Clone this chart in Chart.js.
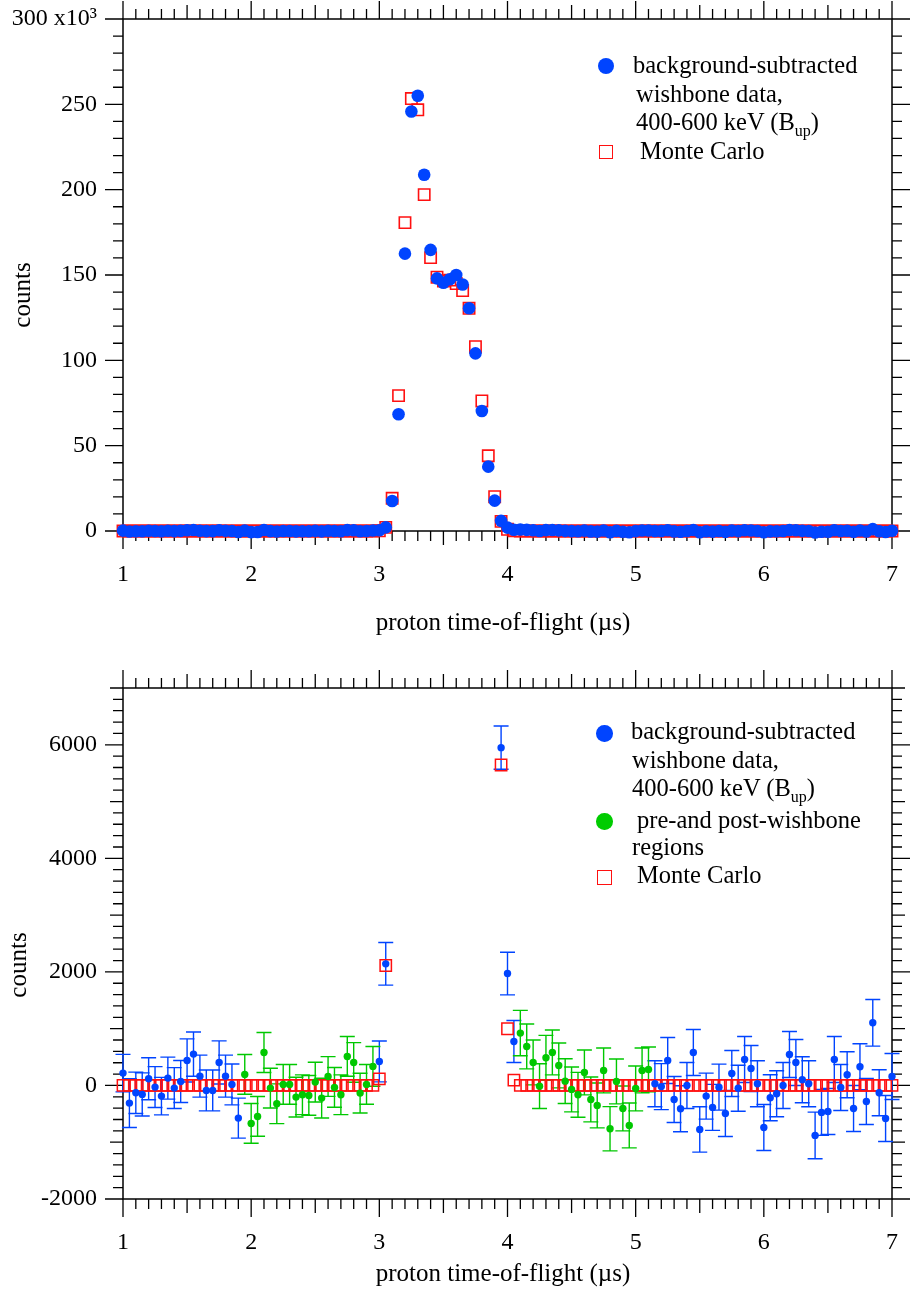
<!DOCTYPE html>
<html>
<head>
<meta charset="utf-8">
<script src="https://cdn.jsdelivr.net/npm/chart.js@4.4.0/dist/chart.umd.min.js"></script>
<style>
html,body{margin:0;padding:0;background:#fff;}
#wrap{position:relative;width:910px;height:1305px;overflow:hidden;font-family:"Liberation Serif","Times New Roman",serif;color:#000;}
canvas{position:absolute;left:0;}
.lg{position:absolute;white-space:nowrap;font-size:24.5px;line-height:28px;}
.lg sub{font-size:16px;vertical-align:-6px;line-height:0;}
.ttl{position:absolute;white-space:nowrap;font-size:25px;line-height:30px;text-align:center;}
.dot{position:absolute;border-radius:50%;}
.sq{position:absolute;box-sizing:border-box;border:1.6px solid #ff1010;}
</style>
</head>
<body>
<div id="wrap">
  <canvas id="top" width="910" height="655" style="top:0"></canvas>
  <canvas id="bot" width="910" height="650" style="top:655px"></canvas>

  <!-- top legend -->
  <div class="dot" style="left:598px;top:58px;width:16px;height:16px;background:#0044ff"></div>
  <div class="lg" style="left:633px;top:51px">background-subtracted</div>
  <div class="lg" style="left:636px;top:80px">wishbone data,</div>
  <div class="lg" style="left:636px;top:108px">400-600 keV (B<sub>up</sub>)</div>
  <div class="sq" style="left:599px;top:145px;width:14px;height:14px"></div>
  <div class="lg" style="left:640px;top:137px">Monte Carlo</div>

  <!-- bottom legend -->
  <div class="dot" style="left:596px;top:725px;width:16.5px;height:16.5px;background:#0044ff"></div>
  <div class="lg" style="left:631px;top:717px">background-subtracted</div>
  <div class="lg" style="left:632px;top:746px">wishbone data,</div>
  <div class="lg" style="left:632px;top:774px">400-600 keV (B<sub>up</sub>)</div>
  <div class="dot" style="left:596px;top:813px;width:16.5px;height:16.5px;background:#00cc00"></div>
  <div class="lg" style="left:637px;top:806px">pre-and post-wishbone</div>
  <div class="lg" style="left:632px;top:833px">regions</div>
  <div class="sq" style="left:597px;top:870px;width:15px;height:15px"></div>
  <div class="lg" style="left:637px;top:861px">Monte Carlo</div>

  <!-- axis titles -->
  <div class="ttl" style="left:303px;top:607px;width:400px">proton time-of-flight (µs)</div>
  <div class="ttl" style="left:303px;top:1258px;width:400px">proton time-of-flight (µs)</div>
  <div class="ttl" style="left:-38px;top:280px;width:120px;height:30px;transform:rotate(-90deg)">counts</div>
  <div class="ttl" style="left:-42px;top:950px;width:120px;height:30px;transform:rotate(-90deg)">counts</div>
</div>
<script>
// ---------------- data ----------------
const times = [
  1.00,1.05,1.10,1.15,1.20,1.25,1.30,1.35,1.40,1.45,
  1.50,1.55,1.60,1.65,1.70,1.75,1.80,1.85,1.90,1.95,
  2.00,2.05,2.10,2.15,2.20,2.25,2.30,2.35,2.40,2.45,
  2.50,2.55,2.60,2.65,2.70,2.75,2.80,2.85,2.90,2.95,
  3.00,3.05,3.10,3.15,3.20,3.25,3.30,3.35,3.40,3.45,
  3.50,3.55,3.60,3.65,3.70,3.75,3.80,3.85,3.90,3.95,
  4.00,4.05,4.10,4.15,4.20,4.25,4.30,4.35,4.40,4.45,
  4.50,4.55,4.60,4.65,4.70,4.75,4.80,4.85,4.90,4.95,
  5.00,5.05,5.10,5.15,5.20,5.25,5.30,5.35,5.40,5.45,
  5.50,5.55,5.60,5.65,5.70,5.75,5.80,5.85,5.90,5.95,
  6.00,6.05,6.10,6.15,6.20,6.25,6.30,6.35,6.40,6.45,
  6.50,6.55,6.60,6.65,6.70,6.75,6.80,6.85,6.90,6.95,
  7.00
];
// background-subtracted data (counts)
const dataCounts = [
  217,-311,-129,-158,117,-29,-188,129,-47,70,
  440,552,164,-88,-88,405,164,18,-575,194,
  -669,-546,581,-47,-323,18,18,-205,-164,-176,
  59,-223,158,-35,-164,511,405,-135,18,335,
  423,2142,17600,68400,162500,245800,255000,208700,164700,148000,
  145500,147500,150000,144400,130500,104100,70300,37700,17800,5949,
  1971,775,922,687,405,-12,487,581,352,76,
  -70,-164,229,-247,-352,264,-763,70,-405,-704,
  -53,264,282,30,-20,440,-247,-411,0,581,
  -775,-188,-387,-30,-493,211,-50,458,299,29,
  -740,-217,-147,0,546,405,100,29,-880,-475,
  -458,458,-35,188,-405,329,-282,1104,-129,-581,
  158
];
// statistical uncertainties of the data (counts)
const dataErrors = [
  330,430,364,380,370,360,330,370,360,370,
  380,390,370,360,360,380,370,360,352,350,
  350,350,352,350,350,350,350,350,350,350,
  350,350,350,350,350,350,350,350,350,350,
  360,376,400,400,400,400,400,400,400,400,
  400,400,400,400,400,400,400,400,400,381,
  376,370,400,395,395,395,395,395,395,395,
  395,395,395,395,395,395,390,395,395,395,
  395,395,395,405,405,405,405,405,405,405,
  400,405,405,405,405,405,405,405,405,405,
  405,405,405,405,405,405,405,405,410,405,
  405,405,405,405,405,405,405,411,405,405,
  405
];
// Monte Carlo (counts)
const mcCounts = [
  0,0,0,0,0,0,0,0,0,0,
  0,0,0,0,0,0,0,0,0,0,
  0,0,0,0,0,0,0,0,0,0,
  0,0,0,0,0,0,0,0,0,0,
  117,2112,19200,79300,180700,253400,246800,197100,160200,148700,
  146500,147000,145000,140900,130500,108000,76200,44100,20100,5644,
  998,94,0,0,0,0,0,0,0,0,
  0,0,0,0,0,0,0,0,0,0,
  0,0,0,0,0,0,0,0,0,0,
  0,0,0,0,0,0,0,0,0,0,
  0,0,0,0,0,0,0,0,0,0,
  0,0,0,0,0,0,0,0,0,0,
  0
];
// pre- and post-wishbone regions (µs)
const preRegion = [1.95, 2.95];
const postRegion = [4.10, 5.10];

// axis ticks / labels
const xTickValues = [1,2,3,4,5,6,7];
const xTickLabels = ['1','2','3','4','5','6','7'];
const yTopTickValues = [0,50000,100000,150000,200000,250000,300000];
const yTopTickLabels = ['0','50','100','150','200','250','300 x10\u00B3'];
const yBotTickValues = [-2000,0,2000,4000,6000];
const yBotTickLabels = ['-2000','0','2000','4000','6000'];

// ---------------- styling ----------------
const BLUE = '#0044ff', GREEN = '#00c800', RED = '#ff1010';
const FONT = "'Liberation Serif','Times New Roman',serif";
Chart.defaults.font.family = FONT;
Chart.defaults.color = '#000';

const inRegion = (t, r) => t >= r[0] - 1e-9 && t <= r[1] + 1e-9;
const isGreen = t => inRegion(t, preRegion) || inRegion(t, postRegion);
const pts = (arr, filt) => times.map((t, i) => ({x: t, y: arr[i], i})).filter(p => !filt || filt(p.x));

// frame + ticks plugin (outward ticks on all four sides)
function framePlugin(ySpec) {
  return {
    id: 'frame',
    beforeDatasetsDraw(chart) {
      const {ctx, chartArea: a, scales: {x, y}} = chart;
      ctx.save();
      ctx.strokeStyle = '#000';
      ctx.lineWidth = 1.5;
      ctx.strokeRect(a.left, a.top, a.right - a.left, a.bottom - a.top);
      ctx.lineWidth = 1.3;
      ctx.beginPath();
      for (let k = Math.round(x.min * 10); k <= Math.round(x.max * 10); k++) {
        const px = x.getPixelForValue(k / 10);
        const len = k % 10 === 0 ? 18 : (k % 5 === 0 ? 14 : 10);
        ctx.moveTo(px, a.bottom); ctx.lineTo(px, a.bottom + len);
        ctx.moveTo(px, a.top); ctx.lineTo(px, a.top - len);
      }
      const n0 = Math.round(y.min / ySpec.minor), n1 = Math.round(y.max / ySpec.minor);
      for (let k = n0; k <= n1; k++) {
        const v = k * ySpec.minor;
        const py = y.getPixelForValue(v);
        let len = 10;
        if (Math.abs(v % ySpec.major) < 1e-6) len = 18;
        else if (ySpec.mid && Math.abs(v % ySpec.mid) < 1e-6) len = 13;
        ctx.moveTo(a.left, py); ctx.lineTo(a.left - len, py);
        ctx.moveTo(a.right, py); ctx.lineTo(a.right + len, py);
      }
      ctx.stroke();
      ctx.restore();
    }
  };
}

const errorBarPlugin = {
  id: 'errbars',
  beforeDatasetsDraw(chart) {
    const {ctx, chartArea: a, scales: {x, y}} = chart;
    ctx.save();
    ctx.beginPath();
    ctx.rect(a.left - 12, a.top, a.right - a.left + 24, a.bottom - a.top + 12);
    ctx.clip();
    chart.data.datasets.forEach(ds => {
      if (!ds.errorBars) return;
      ctx.strokeStyle = ds.errorColor;
      ctx.lineWidth = 1.4;
      ctx.beginPath();
      ds.data.forEach(p => {
        const e = ds.errorBars[p.i];
        const px = x.getPixelForValue(p.x);
        const y1 = y.getPixelForValue(p.y + e), y2 = y.getPixelForValue(p.y - e);
        ctx.moveTo(px, y1); ctx.lineTo(px, y2);
        ctx.moveTo(px - 7.5, y1); ctx.lineTo(px + 7.5, y1);
        ctx.moveTo(px - 7.5, y2); ctx.lineTo(px + 7.5, y2);
      });
      ctx.stroke();
    });
    ctx.restore();
  }
};

function xScale(heightBelow) {
  return {
    type: 'linear', min: 1, max: 7,
    afterBuildTicks: s => { s.ticks = xTickValues.map(v => ({value: v})); },
    afterFit: s => { s.height = heightBelow; s.paddingLeft = 0; s.paddingRight = 0; },
    ticks: {font: {size: 24, family: FONT}, color: '#000', padding: 29, maxRotation: 0, autoSkip: false,
            callback: (v, i) => xTickLabels[i]},
    grid: {display: false, drawTicks: false},
    border: {display: false}
  };
}
function yScale(min, max, vals, labels) {
  return {
    type: 'linear', min: min, max: max,
    afterBuildTicks: s => { s.ticks = vals.map(v => ({value: v})); },
    afterFit: s => { s.width = 123; s.paddingTop = 0; s.paddingBottom = 0; },
    ticks: {font: {size: 24, family: FONT}, color: '#000', padding: 26, autoSkip: false,
            callback: (v, i) => labels[i]},
    grid: {display: false, drawTicks: false},
    border: {display: false}
  };
}

const common = {
  responsive: false, animation: false, devicePixelRatio: 1, events: [],
  plugins: {legend: {display: false}, tooltip: {enabled: false}}
};

// ---------------- top chart ----------------
new Chart(document.getElementById('top'), {
  type: 'scatter',
  data: {
    datasets: [
      {label: 'background-subtracted wishbone data, 400-600 keV (Bup)', data: pts(dataCounts),
       pointStyle: 'circle', pointRadius: 6.3, backgroundColor: BLUE, borderWidth: 0, clip: false},
      {label: 'Monte Carlo', data: pts(mcCounts),
       pointStyle: 'rect', pointRadius: 8, backgroundColor: 'rgba(0,0,0,0)', borderColor: RED, borderWidth: 1.6, clip: false}
    ]
  },
  options: Object.assign({}, common, {
    layout: {padding: {left: 0, right: 18, top: 19, bottom: 0}},
    scales: {x: xScale(655 - 531), y: yScale(0, 300000, yTopTickValues, yTopTickLabels)}
  }),
  plugins: [framePlugin({minor: 10000, major: 50000})]
});

// ---------------- bottom chart ----------------
new Chart(document.getElementById('bot'), {
  type: 'scatter',
  data: {
    datasets: [
      {label: 'background-subtracted wishbone data, 400-600 keV (Bup)', data: pts(dataCounts, t => !isGreen(t)),
       pointStyle: 'circle', pointRadius: 3.7, backgroundColor: BLUE, borderWidth: 0,
       errorBars: dataErrors, errorColor: BLUE, clip: {left: 12, right: 12, top: 0, bottom: 12}},
      {label: 'pre-and post-wishbone regions', data: pts(dataCounts, isGreen),
       pointStyle: 'circle', pointRadius: 3.7, backgroundColor: GREEN, borderWidth: 0,
       errorBars: dataErrors, errorColor: GREEN, clip: {left: 12, right: 12, top: 0, bottom: 12}},
      {label: 'Monte Carlo', data: pts(mcCounts),
       pointStyle: 'rect', pointRadius: 8, backgroundColor: 'rgba(0,0,0,0)', borderColor: RED, borderWidth: 1.5,
       clip: {left: 12, right: 12, top: 0, bottom: 12}}
    ]
  },
  options: Object.assign({}, common, {
    layout: {padding: {left: 0, right: 18, top: 33, bottom: 0}},
    scales: {x: xScale(650 - 544), y: yScale(-2000, 7000, yBotTickValues, yBotTickLabels)}
  }),
  plugins: [framePlugin({minor: 200, mid: 1000, major: 2000}), errorBarPlugin]
});
</script>
</body>
</html>
